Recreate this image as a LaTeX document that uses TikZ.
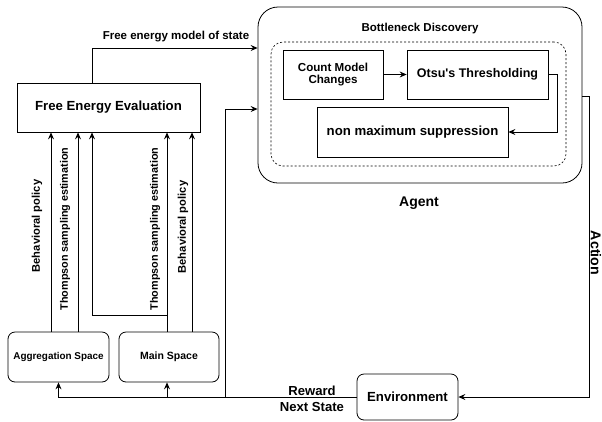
\documentclass[tikz,border=0pt]{standalone}
\usepackage{fontspec}
\setmainfont{Liberation Sans}
\usetikzlibrary{arrows.meta}
\newcommand{\fs}[1]{\fontsize{#1}{14}\selectfont\bfseries}
\begin{document}
\begin{tikzpicture}[x=1pt,y=-1pt,
  sqbox/.style={draw,line width=0.8pt,inner sep=0pt,align=center},
  rbox/.style={sqbox,rounded corners=7pt},
  lbl/.style={inner sep=0pt,align=center},
  arr/.style={line width=0.8pt,-{Stealth[length=7pt,width=6pt,inset=2.5pt]}},
  ln/.style={line width=0.8pt}]
\useasboundingbox (0,0) rectangle (602,421);
% coordinates
\coordinate (c51) at (51,0);
\coordinate (c78) at (78,0);
\coordinate (c92) at (92,0);
\coordinate (c167) at (167,0);
\coordinate (c192) at (192,0);
\coordinate (c225) at (225,0);
\coordinate (y48) at (0,48);
\coordinate (y109) at (0,109);
\coordinate (y315) at (0,315);
\coordinate (act) at (589,96);
% nodes
\node[sqbox,minimum width=183pt,minimum height=49pt] (fee) at (108.5,107.5) {\fs{13.2}Free Energy Evaluation};
\node[sqbox,rounded corners=20pt,minimum width=324pt,minimum height=176pt] (agent) at (420,95) {};
\node[draw,dashed,dash pattern=on 2pt off 2pt,line width=0.6pt,rounded corners=12pt,minimum width=295pt,minimum height=124pt] (bd) at (418.5,104) {};
\node[lbl] (bdl) at (420,29) {\fs{11.5}Bottleneck Discovery};
\node[sqbox,minimum width=100pt,minimum height=49pt] (count) at (333,74.5) {\fs{11.6}Count Model\\\fs{11.6}Changes};
\node[sqbox,minimum width=141pt,minimum height=49pt] (otsu) at (477.5,74.5) {\fs{12.5}Otsu\textquotesingle s Thresholding};
\node[sqbox,minimum width=191pt,minimum height=50pt] (nms) at (412.5,132) {\fs{13.2}non maximum suppression};
\node[lbl] (agl) at (419,203) {\fs{14}Agent};
\node[rbox,minimum width=101pt,minimum height=50pt] (agg) at (58.5,357) {\fs{9.9}Aggregation Space};
\node[rbox,minimum width=100pt,minimum height=50pt] (main) at (169,357) {\fs{10.5}Main Space};
\node[rbox,minimum width=101pt,minimum height=46pt] (env) at (407.5,397) {\fs{13.2}Environment};
\node[lbl] (rw) at (312,391) {\fs{13.1}Reward};
\node[lbl] (ns) at (312,407) {\fs{13.1}Next State};
\node[lbl,rotate=-90] (actl) at (596,253) {\fs{14.2}Action};
\node[lbl] (fem) at (176,37) {\fs{11.5}Free energy model of state};
\node[lbl,rotate=90] (bp1) at (37,226) {\fs{11.2}Behavioral policy};
\node[lbl,rotate=90] (ts1) at (65,229) {\fs{10.8}Thompson sampling estimation};
\node[lbl,rotate=90] (ts2) at (155,229) {\fs{10.8}Thompson sampling estimation};
\node[lbl,rotate=90] (bp2) at (183,227) {\fs{11.2}Behavioral policy};
% connectors
\draw[arr] (c92 |- fee.north) |- (agent.west |- y48);
\draw[arr] (count) -- (otsu);
\draw[arr] (otsu.east) -- ++(9,0) |- (nms.east);
\draw[arr] (agent.east |- act) -- (act) |- (env.east);
\draw[arr] (env.west) -| (agg.south);
\draw[arr] (c167 |- env.west) -- (c167 |- main.south);
\draw[arr] (c225 |- env.west) |- (agent.west |- y109);
\draw[arr] (c51 |- agg.north) -- (c51 |- fee.south);
\draw[arr] (c78 |- agg.north) -- (c78 |- fee.south);
\draw[arr] (c167 |- main.north) -- (c167 |- fee.south);
\draw[arr] (c192 |- main.north) -- (c192 |- fee.south);
\draw[arr] (c167 |- y315) -| (c92 |- fee.south);
\end{tikzpicture}
\end{document}
